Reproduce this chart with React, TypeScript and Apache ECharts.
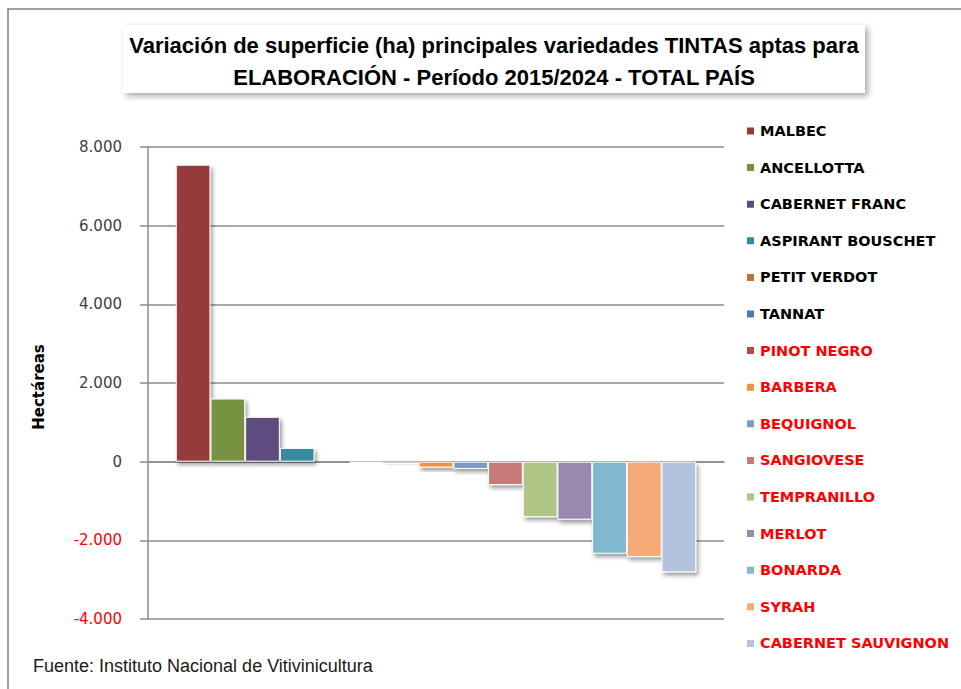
import React, { useEffect, useRef } from "react";
import * as echarts from "echarts";

const varieties = [
  "MALBEC",
  "ANCELLOTTA",
  "CABERNET FRANC",
  "ASPIRANT BOUSCHET",
  "PETIT VERDOT",
  "TANNAT",
  "PINOT NEGRO",
  "BARBERA",
  "BEQUIGNOL",
  "SANGIOVESE",
  "TEMPRANILLO",
  "MERLOT",
  "BONARDA",
  "SYRAH",
  "CABERNET SAUVIGNON",
];

const variation = [7550, 1605, 1140, 350, -15, -30, -60, -150, -185, -595, -1410, -1475, -2340, -2425, -2815];

const barColors = [
  "#953B3A",
  "#77923F",
  "#5F4B7E",
  "#378A9E",
  "#C27333",
  "#4A78B8",
  "#B24A48",
  "#EB9545",
  "#7C9BC8",
  "#C87A78",
  "#AEC585",
  "#9B88B1",
  "#7EB9CE",
  "#F7A977",
  "#B4C3DD",
];

const yTicks = [-4000, -2000, 0, 2000, 4000, 6000, 8000];

const titleLines = [
  "Variación de superficie (ha) principales variedades TINTAS aptas para",
  "ELABORACIÓN - Período 2015/2024 - TOTAL PAÍS",
];
const yAxisName = "Hectáreas";
const sourceNote = "Fuente: Instituto Nacional de Vitivinicultura";

function fmt(v: number): string {
  const s = Math.abs(v).toFixed(0).replace(/\B(?=(\d{3})+(?!\d))/g, ".");
  return (v < 0 ? "-" : "") + s;
}

export default function App() {
  const ref = useRef<HTMLDivElement>(null);

  useEffect(() => {
    document.body.style.margin = "0";
    if (!ref.current) return;
    const chart = echarts.init(ref.current, undefined, { renderer: "svg" });

    const series = varieties.map((name, i) => ({
      type: "bar" as const,
      name,
      data: [variation[i]],
      barWidth: 34.7,
      barGap: "0%",
      itemStyle: {
        color: barColors[i],
        borderColor: "#ffffff",
        borderWidth: 1,
        shadowColor: "rgba(0,0,0,0.4)",
        shadowBlur: 4,
        shadowOffsetX: 2,
        shadowOffsetY: 3,
      },
    }));

    chart.setOption({
      animation: false,
      backgroundColor: "#ffffff",
      grid: { left: 148, right: 237, top: 147, bottom: 70 },
      legend: {
        orient: "vertical",
        left: 740,
        top: 118,
        icon: "rect",
        itemWidth: 9,
        itemHeight: 9,
        itemGap: 20.6,
        itemTextGap: 5,
        textStyle: {
          fontFamily: "DejaVu Sans",
          fontWeight: "bold",
          fontSize: 14.5,
          lineHeight: 16,
          color: "#000000",
        },
        data: varieties.map((name, i) => ({
          name,
          textStyle: { color: i < 6 ? "#000000" : "#FF0000" },
        })),
      },
      xAxis: {
        type: "category",
        data: [""],
        axisLine: { show: true, lineStyle: { color: "#8C8C8C", width: 1.5 } },
        axisTick: { show: false },
        axisLabel: { show: false },
        splitLine: { show: false },
      },
      yAxis: {
        type: "value",
        min: yTicks[0],
        max: yTicks[yTicks.length - 1],
        interval: 2000,
        name: yAxisName,
        nameLocation: "middle",
        nameGap: 102,
        nameRotate: 90,
        nameTextStyle: {
          fontFamily: "DejaVu Sans",
          fontWeight: "bold",
          fontSize: 15,
          color: "#000000",
          padding: [0, 8, 0, 0],
        },
        axisLine: { show: true, lineStyle: { color: "#8C8C8C", width: 1.5 } },
        axisTick: { show: true, inside: false, length: 8, lineStyle: { color: "#8C8C8C", width: 1.5 } },
        axisLabel: {
          margin: 26,
          fontFamily: "DejaVu Sans",
          fontSize: 15,
          formatter: (v: number) => fmt(v),
          color: (v: any) => (Number(v) < 0 ? "#FF0000" : "#404040"),
        },
        splitLine: { show: true, lineStyle: { color: "#8C8C8C", width: 1.5 } },
      },
      series,
      graphic: [
        {
          type: "rect",
          silent: true,
          shape: { x: 8, y: 9, width: 1000, height: 720 },
          style: { fill: "none", stroke: "#808080", lineWidth: 1.5 },
          z: 100,
        },
        {
          type: "rect",
          silent: true,
          shape: { x: 123, y: 25, width: 742, height: 68 },
          style: {
            fill: "#ffffff",
            shadowColor: "rgba(0,0,0,0.35)",
            shadowBlur: 6,
            shadowOffsetX: 3,
            shadowOffsetY: 3,
          },
          z: 10,
        },
        {
          type: "text",
          silent: true,
          x: 494,
          y: 61,
          z: 11,
          style: {
            text: titleLines.join("\n"),
            fontFamily: "Liberation Sans",
            fontWeight: "bold",
            fontSize: 22,
            lineHeight: 32,
            fill: "#000000",
            align: "center",
            verticalAlign: "middle",
          },
        },
        {
          type: "text",
          silent: true,
          x: 33,
          y: 666,
          style: {
            text: sourceNote,
            fontFamily: "Liberation Sans",
            fontSize: 18,
            fill: "#1a1a1a",
            align: "left",
            verticalAlign: "middle",
          },
        },
      ],
    });

    return () => chart.dispose();
  }, []);

  return <div ref={ref} style={{ width: 961, height: 689 }} />;
}
